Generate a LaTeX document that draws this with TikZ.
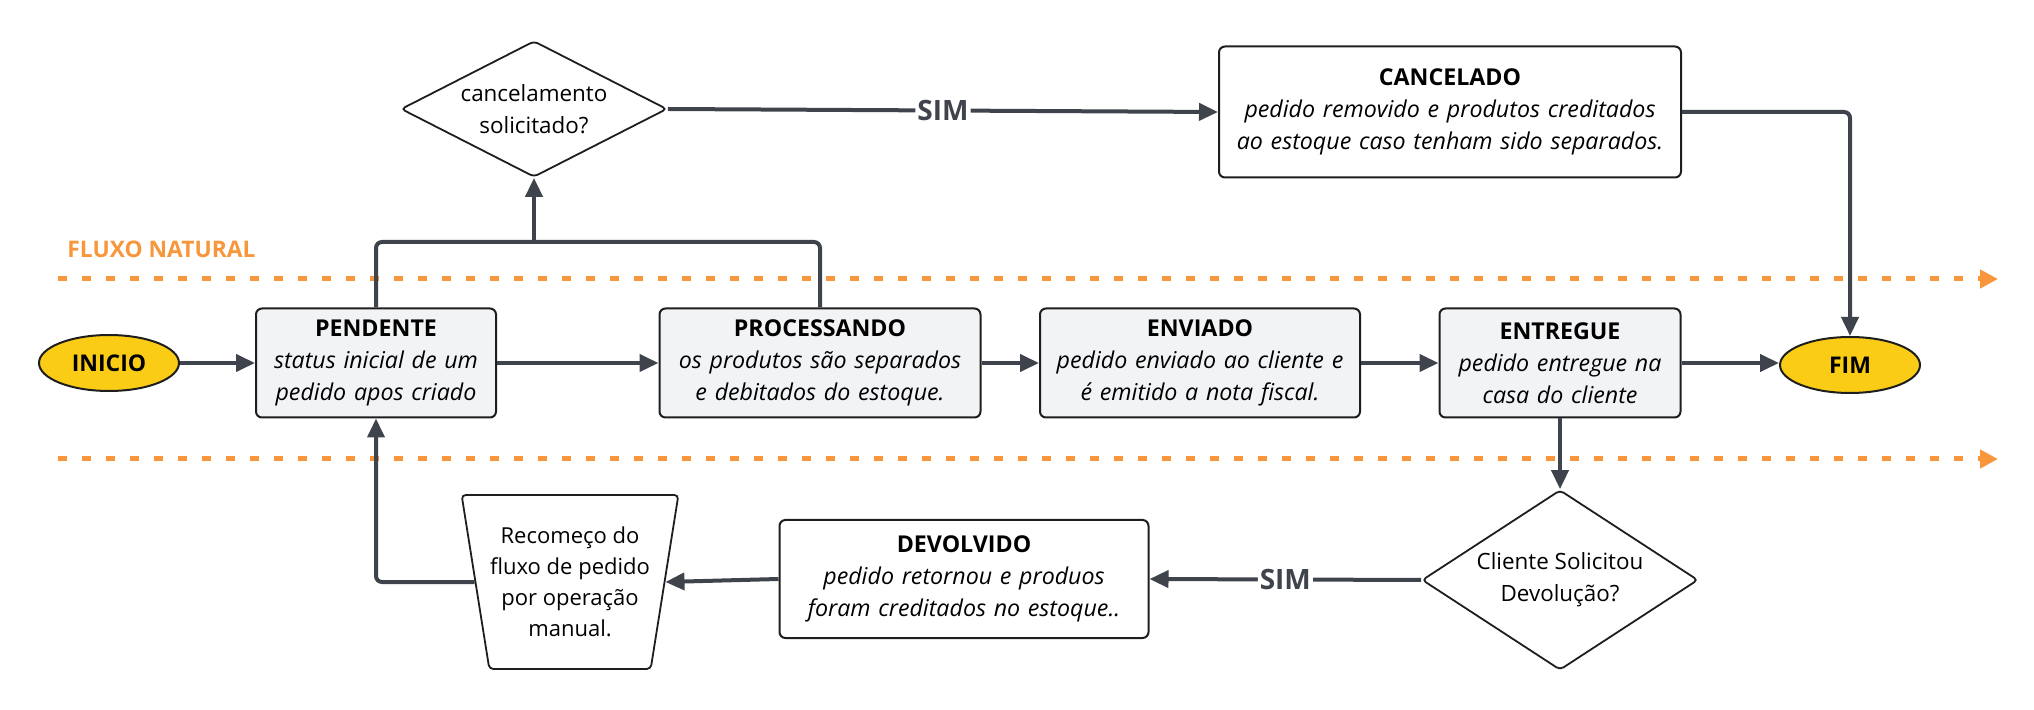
\documentclass[tikz,border=0pt]{standalone}
\usepackage{fontspec}
\setmainfont{Open Sans}
\usetikzlibrary{arrows.meta,shapes.geometric}

\definecolor{linegray}{HTML}{3E434C}
\definecolor{boxfill}{HTML}{F2F3F5}
\definecolor{boxborder}{HTML}{1E1E1E}
\definecolor{termyellow}{HTML}{FACC15}
\definecolor{flowor}{HTML}{F7963B}

\newcommand{\etapa}[2]{\textbf{#1}\\\textit{#2}}

\tikzset{
  state/.style={draw=boxborder, fill=boxfill, rounded corners=3pt, line width=1pt,
    align=center, minimum height=54.5pt, inner xsep=0pt, inner ysep=3pt,
    font=\fontsize{11.6}{16}\selectfont},
  terminal/.style={ellipse, draw=boxborder, fill=termyellow, line width=1pt,
    minimum width=70pt, minimum height=28pt, inner sep=0pt,
    font=\bfseries\fontsize{11.5}{14}\selectfont},
  decision/.style={diamond, draw=boxborder, fill=white, line width=0.9pt,
    inner sep=0pt, align=center, rounded corners=2pt,
    font=\fontsize{11.2}{16}\selectfont},
  manual/.style={trapezium, trapezium angle=76, trapezium stretches=true,
    shape border rotate=180, draw=boxborder, fill=white, line width=0.9pt,
    inner sep=0pt, align=center, rounded corners=2pt,
    font=\fontsize{11}{15.5}\selectfont},
  conn/.style={draw=linegray, line width=2pt, rounded corners=3pt},
  yes/.style={fill=white, inner sep=1pt, text=linegray,
    font=\bfseries\fontsize{14}{16}\selectfont},
  lane/.style={draw=flowor, line width=2.5pt, dash pattern=on 4.5pt off 7.5pt,
    -{Triangle[length=9pt,width=9pt]}}
}

\begin{document}
\begin{tikzpicture}[x=0.5pt, y=-0.5pt, >={Triangle[length=9.5pt,width=8.5pt]}]

\useasboundingbox (0,0) rectangle (2034,710);

\draw[lane] (58,279)--(1998,279);
\draw[lane] (58,459)--(1998,459);
\node[anchor=west, text=flowor, inner sep=0pt, font=\bfseries\fontsize{11.4}{14}\selectfont]
  (fluxo) at (67,249) {FLUXO NATURAL};

\node[terminal] (inicio) at (109,363) {INICIO};
\node[state, text width=120pt] (pendente) at (376,363)
  {\etapa{PENDENTE}{status inicial de um\\pedido apos criado}};
\node[state, text width=160.5pt] (processando) at (820,363)
  {\etapa{PROCESSANDO}{os produtos são separados\\e debitados do estoque.}};
\node[state, text width=160pt] (enviado) at (1200,363)
  {\etapa{ENVIADO}{pedido enviado ao cliente e\\é emitido a nota fiscal.}};
\node[state, text width=120.5pt] (entregue) at (1560,363)
  {\etapa{ENTREGUE}{pedido entregue na\\casa do cliente}};
\node[terminal] (fim) at (1850,365) {FIM};

\node[decision, aspect=2, minimum width=133pt, minimum height=68pt] (cancel) at (534,109)
  {cancelamento\\solicitado?};
\node[state, fill=white, text width=231pt, minimum height=65.5pt] (cancelado) at (1450,112)
  {\etapa{CANCELADO}{pedido removido e produtos creditados\\ao estoque caso tenham sido separados.}};

\node[decision, aspect=1.54, minimum width=138pt, minimum height=90pt] (cliente) at (1560,580)
  {Cliente Solicitou\\Devolução?};
\node[state, fill=white, text width=184.5pt, minimum height=59pt] (devolvido) at (964,579)
  {\etapa{DEVOLVIDO}{pedido retornou e produos\\foram creditados no estoque..}};
\node[manual, minimum width=108.5pt, minimum height=87pt] (recomeco) at (570,582)
  {Recomeço do\\fluxo de pedido\\por operação\\manual.};

\coordinate (juncao) at (534,242);

\draw[conn,->] (inicio) -- (pendente);
\draw[conn,->] (pendente) -- (processando);
\draw[conn,->] (processando) -- (enviado);
\draw[conn,->] (enviado) -- (entregue);
\draw[conn,->] (entregue.east) -- (entregue.east -| fim.west);

\draw[conn] (pendente.north) |- (juncao);
\draw[conn] (processando.north) |- (juncao);
\draw[conn,->] (juncao) -- (cancel.south);
\draw[conn,->] (cancel.east) -- node[yes] {SIM} (cancelado.west);
\draw[conn,->] (cancelado.east) -| (fim.north);

\draw[conn,->] (entregue.south) -- (cliente.north);
\draw[conn,->] (cliente.west) -- node[yes] {SIM} (devolvido.east);
\draw[conn,->] (devolvido.west) -- (recomeco.0);
\draw[conn,->] (recomeco.180) -| (pendente.south);

\end{tikzpicture}
\end{document}
